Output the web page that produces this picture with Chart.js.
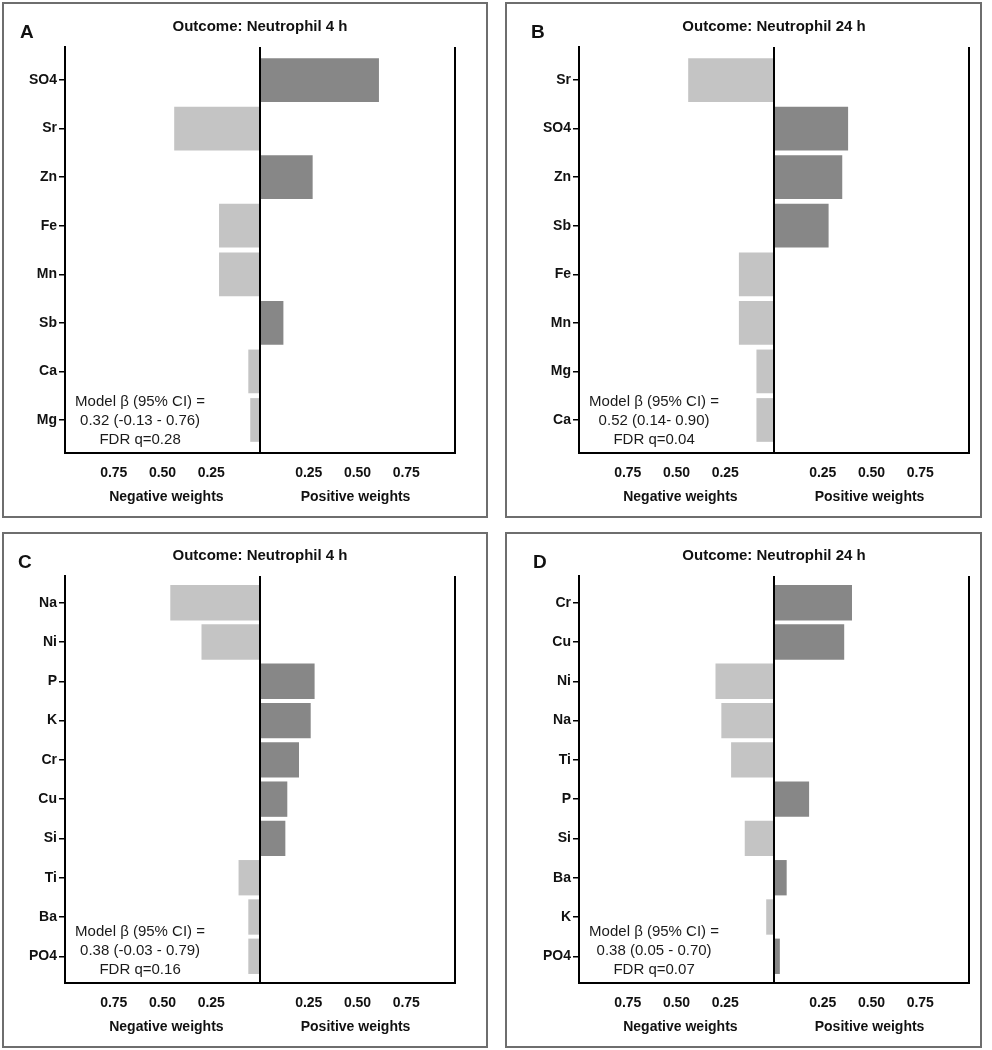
<!DOCTYPE html>
<html>
<head>
<meta charset="utf-8">
<script src="https://cdn.jsdelivr.net/npm/chart.js@4.4.1/dist/chart.umd.min.js"></script>
<style>
  html, body { margin:0; padding:0; background:#fff; }
  #page { position:relative; width:992px; height:1050px; background:#fff; overflow:hidden; }
  .panel { position:absolute; }
  .panel canvas { position:absolute; left:0; top:0; }
  .frame { position:absolute; left:0; top:0; right:0; bottom:0; border:2px solid #6e6e6e; box-sizing:border-box; pointer-events:none; }
</style>
</head>
<body>
<div id="page">
  <div class="panel" id="pA" style="left:2px;top:2px;width:486px;height:516px"><canvas id="cA" width="486" height="516"></canvas><div class="frame"></div></div>
  <div class="panel" id="pB" style="left:505px;top:2px;width:477px;height:516px"><canvas id="cB" width="477" height="516"></canvas><div class="frame"></div></div>
  <div class="panel" id="pC" style="left:2px;top:532px;width:486px;height:516px"><canvas id="cC" width="486" height="516"></canvas><div class="frame"></div></div>
  <div class="panel" id="pD" style="left:505px;top:532px;width:477px;height:516px"><canvas id="cD" width="477" height="516"></canvas><div class="frame"></div></div>
</div>
<script>
// ---------------- DATA ----------------
const A_letter = 'A';
const A_title = 'Outcome: Neutrophil 4 h';
const A_labels = ['SO4', 'Sr', 'Zn', 'Fe', 'Mn', 'Sb', 'Ca', 'Mg'];
const A_weights = [0.61, -0.44, 0.27, -0.21, -0.21, 0.12, -0.06, -0.05];
const A_note = ['Model \u03B2 (95% CI) =', '0.32 (-0.13 - 0.76)', 'FDR q=0.28'];

const B_letter = 'B';
const B_title = 'Outcome: Neutrophil 24 h';
const B_labels = ['Sr', 'SO4', 'Zn', 'Sb', 'Fe', 'Mn', 'Mg', 'Ca'];
const B_weights = [-0.44, 0.38, 0.35, 0.28, -0.18, -0.18, -0.09, -0.09];
const B_note = ['Model \u03B2 (95% CI) =', '0.52 (0.14- 0.90)', 'FDR q=0.04'];

const C_letter = 'C';
const C_title = 'Outcome: Neutrophil 4 h';
const C_labels = ['Na', 'Ni', 'P', 'K', 'Cr', 'Cu', 'Si', 'Ti', 'Ba', 'PO4'];
const C_weights = [-0.46, -0.30, 0.28, 0.26, 0.20, 0.14, 0.13, -0.11, -0.06, -0.06];
const C_note = ['Model \u03B2 (95% CI) =', '0.38 (-0.03 - 0.79)', 'FDR q=0.16'];

const D_letter = 'D';
const D_title = 'Outcome: Neutrophil 24 h';
const D_labels = ['Cr', 'Cu', 'Ni', 'Na', 'Ti', 'P', 'Si', 'Ba', 'K', 'PO4'];
const D_weights = [0.40, 0.36, -0.30, -0.27, -0.22, 0.18, -0.15, 0.065, -0.04, 0.03];
const D_note = ['Model \u03B2 (95% CI) =', '0.38 (0.05 - 0.70)', 'FDR q=0.07'];

const xTickValues = [-0.75, -0.5, -0.25, 0.25, 0.5, 0.75];
const xLineValues = [0, 1];
const axisTitles = ['Negative weights', 'Positive weights'];

// ---------------- STYLE ----------------
const FONT = '"Liberation Sans", Arial, Helvetica, sans-serif';
const POS_COLOR = '#878787';
const NEG_COLOR = '#c4c4c4';
const INK = '#111';

const textPlugin = {
  id: 'panelText',
  afterDraw(chart, args, opts) {
    const ctx = chart.ctx;
    const ca = chart.chartArea;
    const xs = chart.scales.x;
    ctx.save();
    ctx.fillStyle = INK;
    ctx.font = 'bold 19px ' + FONT;
    ctx.textAlign = 'left';
    ctx.textBaseline = 'alphabetic';
    ctx.fillText(opts.letter, opts.letterX, 36);
    ctx.font = 'bold 15px ' + FONT;
    ctx.textAlign = 'center';
    ctx.textBaseline = 'middle';
    ctx.fillText(opts.title, (ca.left + ca.right) / 2, ca.top - 20);
    ctx.font = 'bold 14px ' + FONT;
    ctx.fillText(axisTitles[0], xs.getPixelForValue(-0.48), ca.bottom + 44);
    ctx.fillText(axisTitles[1], xs.getPixelForValue(0.49), ca.bottom + 44);
    ctx.font = '15px ' + FONT;
    ctx.fillStyle = '#1a1a1a';
    const nx = xs.getPixelForValue(-0.615);
    const offs = [-51, -32, -13];
    opts.note.forEach((t, i) => ctx.fillText(t, nx, ca.bottom + offs[i]));
    ctx.restore();
  }
};

function makePanel(canvasId, labels, weights, note, letter, title, geom) {
  const pad = 0.18;
  new Chart(document.getElementById(canvasId), {
    type: 'bar',
    data: {
      datasets: [{
        data: weights.map((w, i) => ({ x: w, y: i })),
        backgroundColor: weights.map(w => w < 0 ? NEG_COLOR : POS_COLOR),
        borderWidth: 0,
        barPercentage: 0.9,
        categoryPercentage: 1.0
      }]
    },
    options: {
      indexAxis: 'y',
      responsive: false,
      animation: false,
      devicePixelRatio: 1,
      layout: { padding: { top: geom.top, right: geom.right, bottom: 0, left: 0 } },
      plugins: {
        legend: { display: false },
        tooltip: { enabled: false },
        title: { display: false },
        panelText: { letter, title, note, letterX: geom.letterX }
      },
      scales: {
        x: {
          type: 'linear',
          min: -1,
          max: 1,
          z: 1,
          afterBuildTicks(scale) {
            scale.ticks = xTickValues.concat(xLineValues).sort((a, b) => a - b).map(v => ({ value: v }));
          },
          afterFit(scale) { scale.height = geom.bottom; },
          ticks: {
            padding: 12,
            color: INK,
            font: { family: FONT, size: 14, weight: 'bold' },
            maxRotation: 0,
            autoSkip: false,
            callback: (v) => xLineValues.includes(v) ? '' : Math.abs(v).toFixed(2)
          },
          grid: {
            drawTicks: false,
            drawOnChartArea: true,
            lineWidth: 2,
            color: (c) => (c.tick && xLineValues.includes(c.tick.value)) ? '#000' : 'rgba(0,0,0,0)'
          },
          border: { display: true, color: '#000', width: 2 }
        },
        y: {
          type: 'linear',
          reverse: true,
          offset: false,
          min: -0.5 - pad,
          max: labels.length - 0.5 + pad,
          afterBuildTicks(scale) {
            scale.ticks = labels.map((l, i) => ({ value: i }));
          },
          afterFit(scale) { scale.width = geom.left; },
          ticks: {
            padding: 2,
            color: INK,
            autoSkip: false,
            font: { family: FONT, size: 14, weight: 'bold' },
            callback: (v) => labels[v]
          },
          grid: {
            offset: false,
            drawOnChartArea: false,
            drawTicks: true,
            tickLength: 6,
            lineWidth: 1.5,
            color: '#000'
          },
          border: { display: true, color: '#000', width: 2 }
        }
      }
    },
    plugins: [textPlugin]
  });
}

makePanel('cA', A_labels, A_weights, A_note, A_letter, A_title, { left: 63, right: 33, top: 45, bottom: 65, letterX: 18 });
makePanel('cB', B_labels, B_weights, B_note, B_letter, B_title, { left: 74, right: 13, top: 45, bottom: 65, letterX: 26 });
makePanel('cC', C_labels, C_weights, C_note, C_letter, C_title, { left: 63, right: 33, top: 44, bottom: 65, letterX: 16 });
makePanel('cD', D_labels, D_weights, D_note, D_letter, D_title, { left: 74, right: 13, top: 44, bottom: 65, letterX: 28 });
</script>
</body>
</html>
